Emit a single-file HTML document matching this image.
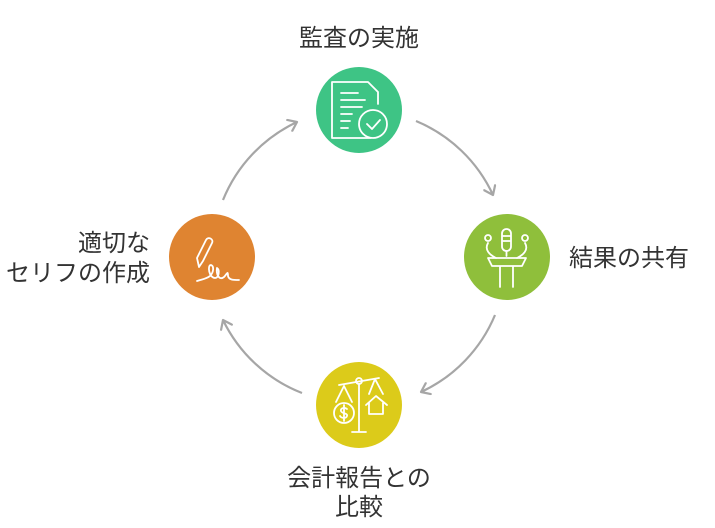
<!DOCTYPE html>
<html><head><meta charset="utf-8"><style>
body{margin:0;background:#fff;width:715px;height:523px;overflow:hidden;font-family:"Liberation Sans","Noto Sans CJK JP",sans-serif;}
</style></head><body>
<svg width="715" height="523" viewBox="0 0 715 523" xmlns="http://www.w3.org/2000/svg">
<defs>
<marker id="ah" markerWidth="14" markerHeight="14" refX="10" refY="7" orient="auto" markerUnits="userSpaceOnUse">
<polyline points="2,1 10,7 2,13" fill="none" stroke="#a6a6a6" stroke-width="2.2" stroke-linecap="round" stroke-linejoin="round"/>
</marker>
</defs>
<g fill="none" stroke="#a6a6a6" stroke-width="2.2" marker-end="url(#ah)">
<path d="M416,121 A147,147 0 0 1 493,195"/>
<path d="M495,315 A147,147 0 0 1 421,392"/>
<path d="M302,393 A147,147 0 0 1 223,320"/>
<path d="M223,200 A147,147 0 0 1 297,122"/>
</g>
<circle cx="359" cy="110" r="43" fill="#3ec485"/>
<circle cx="507" cy="257" r="43" fill="#8fbf3b"/>
<circle cx="359" cy="405" r="43" fill="#dccb1a"/>
<circle cx="212" cy="257" r="43" fill="#df8431"/>
<g fill="none" stroke="#fff" stroke-width="1.8" stroke-linecap="round" stroke-linejoin="round">
<path d="M371,138 H332 V82 H368 L378,92 V104"/>
<path d="M341,93 H358 M341,100 H365 M341,107 H362 M341,114 H352 M341,121 H350 M341,128 H348"/>
<circle cx="373" cy="124" r="14"/>
<path d="M367,124 L372,129 L380,120"/>
<rect x="502" y="229" width="9" height="22" rx="4.5"/>
<path d="M503,236 H510 M503,241 H510 M506.5,251 V256"/>
<path d="M488,243 C484,250 490,255 496,258 M525,243 C529,250 523,255 517,258"/>
<circle cx="488" cy="238" r="3"/><circle cx="525" cy="238" r="3"/>
<path d="M488,258 H526 L522,266 H492 Z M500,266 V287 M513,266 V287"/>
<path d="M339,385 L379,378 M359,384 V432 M352,432 H366"/>
<circle cx="359" cy="381" r="3"/>
<path d="M344,386 L336,402 M344,386 L352,402 M375,379 L369,394 M375,379 L383,394"/>
<circle cx="344" cy="413" r="10"/>
<path d="M347,409 C345,407 340,408 341,411 C342,414 348,413 347,416 C346,419 341,418 340,416 M344,405 V421"/>
<path d="M366,405 L376,396 L387,405 M369,403 V414 H383 V403"/>
<path d="M199,267 L197,258 L206,240 C208,236 214,239 212,243 L203,261 Z"/>
<path d="M197,281 C203,279 206,279 210,276 C214,272 214,266 211,265 C207,265 209,278 215,278 C219,278 220,270 217,268 C216,274 219,281 224,277 C227,274 228,270 228,276 C229,280 233,280 239,280"/>
</g>
<g font-family="Liberation Sans, Noto Sans CJK JP, sans-serif" font-size="24" fill="#333">
<text x="359" y="46" text-anchor="middle">監査の実施</text>
<text x="569" y="266">結果の共有</text>
<text x="359" y="486" text-anchor="middle">会計報告との</text>
<text x="359" y="515" text-anchor="middle">比較</text>
<text x="150" y="251" text-anchor="end">適切な</text>
<text x="150" y="281" text-anchor="end">セリフの作成</text>
</g>
</svg>
</body></html>
